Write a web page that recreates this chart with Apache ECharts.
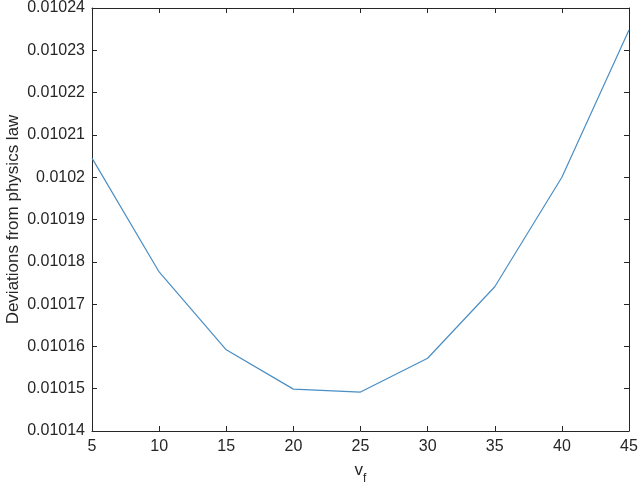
<!DOCTYPE html>
<html>
<head>
<meta charset="utf-8">
<script src="https://cdn.jsdelivr.net/npm/echarts@6/dist/echarts.min.js"></script>
<style>html,body{margin:0;padding:0;background:#fff}#c{width:640px;height:491px}</style>
</head>
<body>
<div id="c"></div>
<script>
const xValues = [5, 10, 15, 20, 25, 30, 35, 40, 45];
const deviations = [0.0102045, 0.0101776, 0.0101592, 0.0101499, 0.0101492, 0.0101572, 0.0101741, 0.0102000, 0.0102348];
const yTickLabels = ['0.01014','0.01015','0.01016','0.01017','0.01018','0.01019','0.0102','0.01021','0.01022','0.01023','0.01024'];

const axisColor = '#262626';
const font = 'Arial, "Liberation Sans", Helvetica, sans-serif';
const chart = echarts.init(document.getElementById('c'));
const tickInside = { show: true, inside: true, length: 5, lineStyle: { color: axisColor, width: 1 } };
const axLine = { show: true, onZero: false, lineStyle: { color: axisColor, width: 1 } };
const yMin = 0.01014, yMax = 0.01024, yInt = 0.00001;
chart.setOption({
  animation: false,
  backgroundColor: '#fff',
  grid: { left: 92, right: 11, top: 8, bottom: 60, containLabel: false, outerBoundsMode: 'none' },
  xAxis: [{
    type: 'value', min: 5, max: 45, interval: 5,
    axisLine: axLine, axisTick: tickInside, splitLine: { show: false },
    axisLabel: { color: axisColor, fontSize: 16, fontFamily: font, margin: 8 },
    name: '{v|v}{s|f}', nameLocation: 'middle', nameGap: 30, nameMoveOverlap: false,
    nameTextStyle: { rich: {
      v: { fontSize: 17, color: axisColor, fontFamily: font, verticalAlign: 'bottom', lineHeight: 18 },
      s: { fontSize: 12, color: axisColor, fontFamily: font, verticalAlign: 'bottom', lineHeight: 12, padding: [0,0,-6,0] }
    } }
  }, {
    type: 'value', position: 'top', min: 5, max: 45, interval: 5,
    axisLine: axLine, axisTick: tickInside, axisLabel: { show: false }, splitLine: { show: false }
  }],
  yAxis: [{
    type: 'value', min: yMin, max: yMax, interval: yInt,
    axisLine: axLine, axisTick: tickInside, splitLine: { show: false },
    axisLabel: { color: axisColor, fontSize: 16, fontFamily: font, margin: 7,
      formatter: function (v) { const i = Math.round((v - yMin) / yInt); return yTickLabels[i] !== undefined ? yTickLabels[i] : ''; } },
    name: 'Deviations from physics law', nameLocation: 'middle', nameGap: 70, nameMoveOverlap: false,
    nameTextStyle: { color: axisColor, fontSize: 17, fontFamily: font }
  }, {
    type: 'value', position: 'right', min: yMin, max: yMax, interval: yInt,
    axisLine: axLine, axisTick: tickInside, axisLabel: { show: false }, splitLine: { show: false }
  }],
  series: [{
    type: 'line',
    data: xValues.map((x, i) => [x, deviations[i]]),
    showSymbol: false, symbol: 'none',
    lineStyle: { color: '#4a8ec4', width: 1.2 },
    xAxisIndex: 0, yAxisIndex: 0
  }]
});
</script>
</body>
</html>
